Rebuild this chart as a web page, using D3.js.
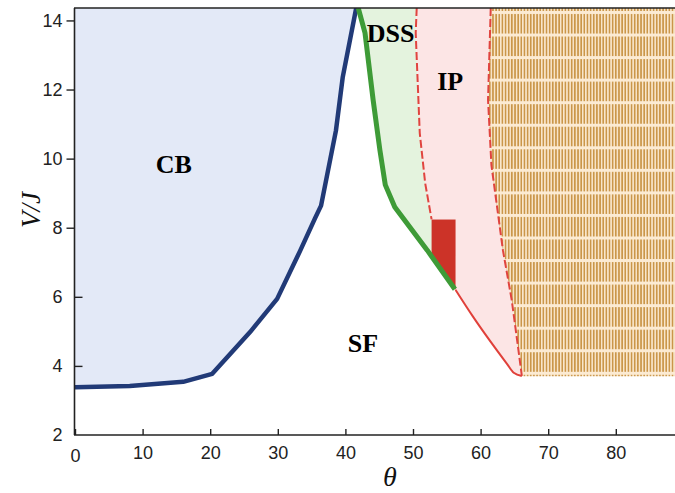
<!DOCTYPE html>
<html><head><meta charset="utf-8">
<script src="https://cdn.jsdelivr.net/npm/d3@7"></script>
<style>html,body{margin:0;padding:0;background:#fff;}svg{display:block;}</style>
</head><body>
<svg id="chart" width="675" height="493"></svg>
<script>
// ---- data (theta in degrees, V/J) ----
const xTicks = [0, 10, 20, 30, 40, 50, 60, 70, 80];
const yTicks = [2, 4, 6, 8, 10, 12, 14];
const xDomain = [0, 88.8];
const yDomain = [2, 14.36];

// CB boundary (navy)
const cbTheta = [0, 8.1, 16.0, 20.3, 25.9, 29.9, 33.3, 35.5, 36.4, 38.6, 39.6, 41.6];
const cbV     = [3.38, 3.42, 3.54, 3.77, 4.98, 5.94, 7.33, 8.27, 8.64, 10.81, 12.35, 14.36];

// DSS boundary (green)
const dssTheta = [41.9, 42.9, 44.1, 45.1, 45.9, 47.3, 52.1, 56.2];
const dssV     = [14.36, 13.64, 11.70, 10.25, 9.24, 8.60, 7.35, 6.22];

// first dashed boundary (DSS | IP)
const dash1Theta = [50.55, 50.4, 51.0, 51.8, 52.75];
const dash1V     = [14.36, 13.64, 10.74, 9.29, 8.24];

// red block
const blockTheta = [52.75, 56.3, 56.3, 52.75];
const blockV     = [8.24, 8.24, 6.20, 7.18];

// lower IP boundary (solid red)
const ipLowTheta = [56.3, 58.9, 63.9, 64.9, 66.1];
const ipLowV     = [6.20, 5.42, 4.06, 3.80, 3.71];

// second dashed boundary (IP | hatched)
const dash2Theta = [61.5, 61.1, 61.6, 62.3, 63.3, 64.6, 65.4, 66.1];
const dash2V     = [14.36, 11.70, 9.81, 8.80, 7.35, 5.91, 4.75, 3.71];

const hatchBottom = 3.70;

const labels = [
  {text: "CB",  theta: 14.6, v: 9.58},
  {text: "DSS", theta: 46.7, v: 13.37},
  {text: "IP",  theta: 55.5, v: 12.0},
  {text: "SF",  theta: 42.6, v: 4.4}
];

// ---- layout ----
const svg = d3.select("#chart");
const PL = 75, PR = 675, PT = 8, PB = 435;
const x = d3.scaleLinear().domain(xDomain).range([PL, PL + 6.76 * 88.8]);
const y = d3.scaleLinear().domain(yDomain).range([PB, PT]);

const zip = (a, b) => a.map((t, i) => [t, b[i]]);
const cb = zip(cbTheta, cbV);
const dss = zip(dssTheta, dssV);
const d1 = zip(dash1Theta, dash1V);
const blk = zip(blockTheta, blockV);
const ipl = zip(ipLowTheta, ipLowV);
const d2 = zip(dash2Theta, dash2V);

const line = d3.line().x(d => x(d[0])).y(d => y(d[1]));
const poly = pts => line(pts) + "Z";

// hatch pattern
const defs = svg.append("defs");
const pat = defs.append("pattern").attr("id", "hatch")
  .attr("patternUnits", "userSpaceOnUse")
  .attr("x", 0).attr("y", 11).attr("width", 3.15).attr("height", 22.55);
pat.append("rect").attr("width", 3.15).attr("height", 22.55).attr("fill", "#fcebd3");
pat.append("rect").attr("x", 0.7).attr("y", 3).attr("width", 1.7).attr("height", 19.55).attr("fill", "#ca9649");

defs.append("clipPath").attr("id", "plotclip").append("rect")
  .attr("x", PL).attr("y", PT).attr("width", PR - PL).attr("height", PB - PT);

const g = svg.append("g").attr("clip-path", "url(#plotclip)");

// CB fill
g.append("path").attr("d", poly([[0, yDomain[1]], ...cb]))
  .attr("fill", "#e3e9f7");
// DSS fill
g.append("path").attr("d", poly([...dss, ...d1.slice().reverse()]))
  .attr("fill", "#e4f3de");
// IP fill
g.append("path").attr("d", poly([...d1, [blockTheta[1], blockV[1]], ...ipl, ...d2.slice().reverse()]))
  .attr("fill", "#fce5e5");
// hatched fill
g.append("path").attr("d", poly([...d2, [dash2Theta[dash2Theta.length-1], hatchBottom], [xDomain[1], hatchBottom], [xDomain[1], yDomain[1]]]))
  .attr("fill", "url(#hatch)");
// red block
g.append("path").attr("d", poly(blk)).attr("fill", "#cc3328");

// boundaries
g.append("path").attr("d", line(cb)).attr("fill", "none")
  .attr("stroke", "#213a77").attr("stroke-width", 4.5).attr("stroke-linejoin", "round");
g.append("path").attr("fill", "none")
  .attr("stroke", "#e0403a").attr("stroke-width", 2).attr("stroke-linejoin", "round")
  .attr("d", d3.line().x(d => x(d[0])).y(d => y(d[1])).curve(d3.curveMonotoneX)(ipl));
g.append("path").attr("d", line(d1)).attr("fill", "none")
  .attr("stroke", "#e0443f").attr("stroke-width", 2).attr("stroke-dasharray", "8,3");
g.append("path").attr("d", line(d2)).attr("fill", "none")
  .attr("stroke", "#e0443f").attr("stroke-width", 2).attr("stroke-dasharray", "8,3");
g.append("path").attr("d", line(dss)).attr("fill", "none")
  .attr("stroke", "#3e9b37").attr("stroke-width", 5).attr("stroke-linejoin", "round");

// axes
const axisFont = "'Liberation Sans', Arial, Helvetica, sans-serif";
const xAxis = svg.append("g").attr("transform", `translate(0,${PB})`)
  .call(d3.axisBottom(x).tickValues(xTicks).tickSize(-6).tickSizeOuter(0).tickPadding(14));
const yAxis = svg.append("g").attr("transform", `translate(${PL - 0.5},0)`)
  .call(d3.axisLeft(y).tickValues(yTicks).tickSize(8).tickSizeOuter(0).tickPadding(4));
[xAxis, yAxis].forEach(a => {
  a.select(".domain").remove();
  a.selectAll("line").attr("stroke", "#222").attr("stroke-width", 1.4);
  a.selectAll("text").attr("font-family", axisFont).attr("font-size", 18).attr("fill", "#222");
});
xAxis.selectAll(".tick text").attr("dy", "0.35em").attr("y", 18);
xAxis.selectAll(".tick").filter(d => d === 0).select("text").attr("y", 21);
yAxis.selectAll(".tick").filter(d => d === 2).select("line").remove();
yAxis.selectAll(".tick").filter(d => d < 7).select("line").attr("x2", 8);
yAxis.selectAll(".tick text").attr("x", -12);

// frame lines
svg.append("line").attr("x1", PL - 0.5).attr("x2", PL - 0.5).attr("y1", PT).attr("y2", PB)
  .attr("stroke", "#222").attr("stroke-width", 1.6);
svg.append("line").attr("x1", PL - 1).attr("x2", PR).attr("y1", PB).attr("y2", PB)
  .attr("stroke", "#222").attr("stroke-width", 1.6);
svg.append("line").attr("x1", PL - 1).attr("x2", PR).attr("y1", PT).attr("y2", PT)
  .attr("stroke", "#222").attr("stroke-width", 1.6);

// region labels
svg.selectAll("text.region").data(labels).enter().append("text")
  .attr("class", "region")
  .attr("x", d => x(d.theta)).attr("y", d => y(d.v))
  .attr("text-anchor", "middle")
  .attr("font-family", "'Liberation Serif', 'Times New Roman', serif")
  .attr("font-weight", "bold").attr("font-size", 26).attr("fill", "#000")
  .text(d => d.text);

// axis titles
svg.append("text").attr("transform", "translate(40,210) rotate(-90)")
  .attr("text-anchor", "middle")
  .attr("font-family", "'Liberation Serif', 'Times New Roman', serif")
  .attr("font-style", "italic").attr("font-size", 27).attr("fill", "#111")
  .text("V/J");
svg.append("text").attr("x", 390).attr("y", 486)
  .attr("text-anchor", "middle")
  .attr("font-family", "'Liberation Serif', 'Times New Roman', serif")
  .attr("font-style", "italic").attr("font-size", 28).attr("fill", "#111")
  .text("θ");
</script>
</body></html>
